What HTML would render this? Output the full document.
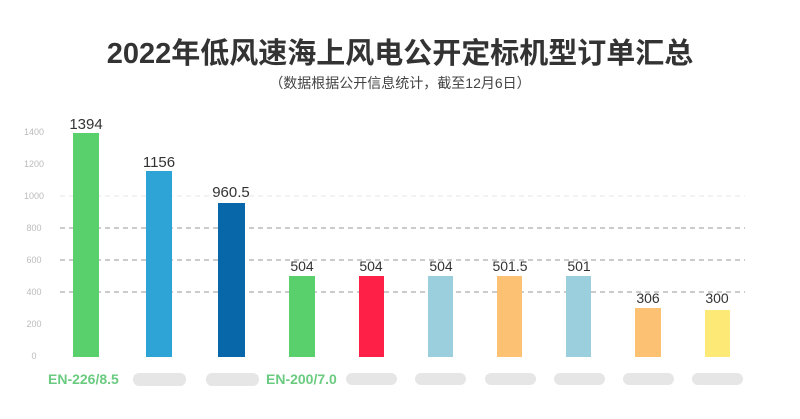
<!DOCTYPE html>
<html><head><meta charset="utf-8"><style>
body{margin:0;background:#fff;width:800px;height:414px;overflow:hidden;font-family:"Liberation Sans","Noto Sans CJK SC",sans-serif}
</style></head><body>
<svg width="800" height="414" xmlns="http://www.w3.org/2000/svg" font-family="Liberation Sans, Noto Sans CJK SC, sans-serif">
<text x="400" y="63" text-anchor="middle" font-size="29" font-weight="bold" fill="#333">2022年低风速海上风电公开定标机型订单汇总</text>
<text x="400" y="88" text-anchor="middle" font-size="14" fill="#444">（数据根据公开信息统计，截至12月6日）</text>
<g stroke="#999" stroke-dasharray="5,4" stroke-width="1">
<line x1="60" y1="228" x2="745" y2="228"/><line x1="60" y1="260" x2="745" y2="260"/><line x1="60" y1="292" x2="745" y2="292"/>
</g>
<line x1="60" y1="196" x2="745" y2="196" stroke="#e4e4e4" stroke-dasharray="5,4"/>
<g font-size="9" fill="#bbb" text-anchor="middle">
<text x="34" y="135">1400</text><text x="34" y="167">1200</text><text x="34" y="199">1000</text><text x="34" y="231">800</text><text x="34" y="263">600</text><text x="34" y="295">400</text><text x="34" y="327">200</text><text x="34" y="359">0</text>
</g>
<rect x="73" y="133" width="26" height="224" fill="#5ad06c"/>
<rect x="146" y="171" width="26" height="186" fill="#2ea3d6"/>
<rect x="218" y="203" width="27" height="154" fill="#0767a8"/>
<rect x="289" y="276" width="26" height="81" fill="#5ad06c"/>
<rect x="359" y="276" width="25" height="81" fill="#ff2048"/>
<rect x="428" y="276" width="25" height="81" fill="#9bcfdd"/>
<rect x="497" y="276" width="25" height="81" fill="#fcc172"/>
<rect x="566" y="276" width="25" height="81" fill="#9bcfdd"/>
<rect x="635" y="308" width="26" height="49" fill="#fcc172"/>
<rect x="705" y="310" width="25" height="47" fill="#fde975"/>
<g font-size="14" fill="#333" text-anchor="middle">
<text x="86" y="129" font-size="15">1394</text><text x="159" y="167" font-size="15">1156</text><text x="231" y="197" font-size="15">960.5</text>
<text x="302" y="271">504</text><text x="371" y="271">504</text><text x="441" y="271">504</text><text x="510" y="271">501.5</text><text x="579" y="271">501</text><text x="648" y="303">306</text><text x="717" y="303">300</text>
</g>
<g font-size="14" font-weight="bold" fill="#6acb80">
<text x="48" y="384">EN-226/8.5</text><text x="266" y="384">EN-200/7.0</text>
</g>
<g fill="#e6e6e6">
<rect x="133" y="373" width="53" height="13" rx="6"/><rect x="206" y="373" width="53" height="13" rx="6"/>
<rect x="346" y="373" width="51" height="12" rx="6"/><rect x="415" y="373" width="51" height="12" rx="6"/><rect x="485" y="373" width="51" height="12" rx="6"/><rect x="554" y="373" width="51" height="12" rx="6"/><rect x="623" y="373" width="51" height="12" rx="6"/><rect x="692" y="373" width="51" height="12" rx="6"/>
</g>
</svg>
</body></html>
